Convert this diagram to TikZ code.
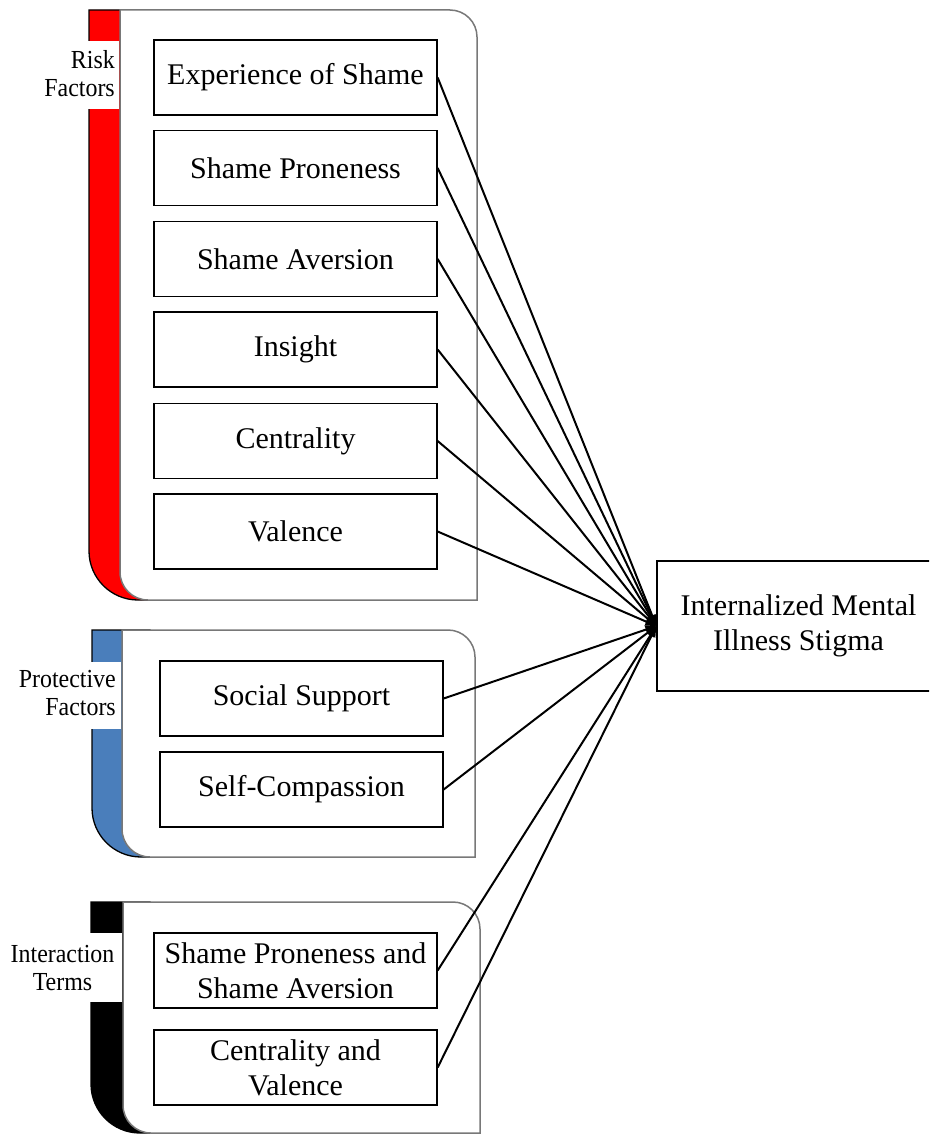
\documentclass[tikz,border=0pt]{standalone}
\usepackage{fontspec}
\setmainfont{Liberation Serif}
\newfontfamily\condfont[FakeStretch=0.92]{Liberation Serif}
\usetikzlibrary{arrows.meta}
\definecolor{riskred}{RGB}{255,0,0}
\definecolor{protblue}{RGB}{74,126,187}
\definecolor{framegray}{RGB}{120,120,120}
\begin{document}
\begin{tikzpicture}[x=1pt,y=1pt,
 bar/.style={draw=black,line width=1.3pt},
 frame/.style={draw=framegray,fill=white,line width=1.5pt},
 ibox/.style={draw=black,line width=1.3pt,fill=white,minimum width=283pt,minimum height=75pt,inner sep=0pt,font=\fontsize{30}{35}\selectfont,align=center},
 grp/.style={font=\condfont\fontsize{26}{28}\selectfont,inner sep=0pt},
 conn/.style={line width=2pt,-{Triangle[length=11pt,width=8pt]}}]
\clip (0,0) rectangle (929,-1134);
\fill[white] (0,0) rectangle (929,-1134);
% ---- Risk factors group
\path[bar,fill=riskred] (89,-10) -- (150,-10) -- (150,-600) -- (138,-600) arc[start angle=270,end angle=180,radius=49pt] -- cycle;
\path[frame] (120,-10) -- (450,-10) arc[start angle=90,end angle=0,radius=27pt] -- (477,-600) -- (148,-600) arc[start angle=270,end angle=180,radius=28pt] -- cycle;
\fill[white] (86,-41) rectangle (119.2,-109);
\node[grp,anchor=east,align=right] (riskl) at (115,-74) {Risk\\Factors};
% ---- Protective factors group
\path[bar,fill=protblue] (92,-630) -- (150,-630) -- (150,-857) -- (141,-857) arc[start angle=270,end angle=180,radius=49pt] -- cycle;
\path[frame] (122,-630) -- (448,-630) arc[start angle=90,end angle=0,radius=27pt] -- (475,-857) -- (150,-857) arc[start angle=270,end angle=180,radius=28pt] -- cycle;
\fill[white] (89,-662) rectangle (121.2,-729);
\node[grp,anchor=east,align=right] (protl) at (116,-693) {Protective\\Factors};
% ---- Interaction terms group
\path[bar,fill=black] (91,-902) -- (150,-902) -- (150,-1133) -- (140,-1133) arc[start angle=270,end angle=180,radius=49pt] -- cycle;
\path[frame] (123,-902) -- (453,-902) arc[start angle=90,end angle=0,radius=27pt] -- (480,-1133) -- (151,-1133) arc[start angle=270,end angle=180,radius=28pt] -- cycle;
\fill[white] (88,-933) rectangle (122.2,-1002);
\node[grp,align=center] (intl) at (62.5,-968) {Interaction\\Terms};
% ---- inner boxes
\node[ibox] (es)  at (295.5,-77.5) {Experience of Shame};
\node[ibox] (sp)  at (295.5,-168)  {Shame Proneness};
\node[ibox] (sa)  at (295.5,-259)  {Shame Aversion};
\node[ibox] (ins) at (295.5,-349.5) {Insight};
\node[ibox] (cen) at (295.5,-441)  {Centrality};
\node[ibox] (val) at (295.5,-531.5) {Valence};
\node[ibox] (ss)  at (301.5,-698.5) {Social Support};
\node[ibox] (sc)  at (301.5,-789.5) {Self-Compassion};
\node[ibox] (spa) at (295.5,-970.5) {Shame Proneness and\\Shame Aversion};
\node[ibox] (cv)  at (295.5,-1067.5) {Centrality and\\Valence};
% ---- target
\node[ibox,minimum height=130pt] (tgt) at (798.5,-626) {Internalized Mental\\Illness Stigma};
% ---- connectors
\foreach \n in {es,sp,sa,ins,cen,val,ss,sc,spa,cv}
  \draw[conn] (\n.east) -- (tgt.west);
\end{tikzpicture}
\end{document}
